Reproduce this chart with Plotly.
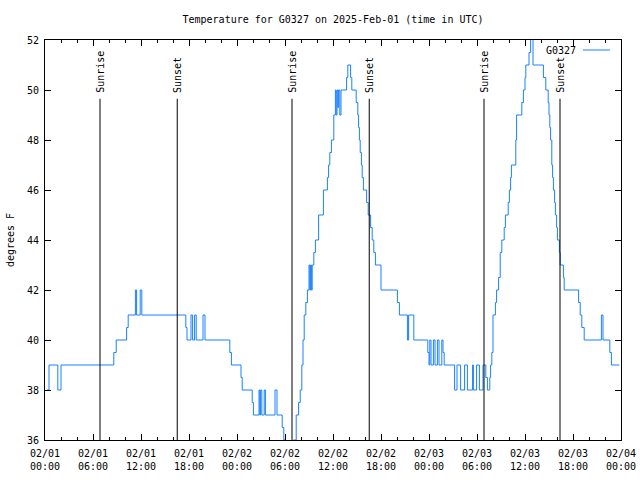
import pandas as pd
import plotly.graph_objects as go

# ---- data (hours since 2025-02-01 00:00 UTC, temperature in F) ----
hours = [0.25, 0.5, 1.6, 2.0, 8.6, 8.9, 10.2, 10.4, 11.3, 11.45, 11.9, 12.1,
         17.6, 17.75, 18.25, 18.45, 18.7, 18.9, 19.75, 20.0, 23.1, 23.3,
         24.5, 24.65, 25.9, 26.05, 26.75, 26.85, 26.95, 27.1, 27.4, 27.55,
         28.75, 29.0, 29.65, 29.85, 30.0, 31.05, 31.4, 31.7, 31.9, 32.1, 32.25,
         32.4, 32.6, 32.8, 33.0, 33.1, 33.2, 33.3, 33.4, 33.6, 33.8, 34.2, 34.8,
         35.3, 35.45, 35.6, 35.8, 36.1, 36.3, 36.4, 36.5, 36.6, 36.7, 36.85,
         37.0, 37.7, 37.85, 38.2, 38.35, 38.9, 39.1, 39.2, 39.3, 39.4, 39.55,
         39.65, 39.8, 40.2, 40.4, 40.7, 40.9, 41.1, 41.3, 42.0, 44.05, 44.3,
         45.3, 45.45, 46.1, 47.85, 48.0, 48.1, 48.25, 48.55, 48.75, 49.05,
         49.25, 49.6, 49.75, 49.9, 51.2, 51.5, 51.95, 52.45, 52.8, 53.45,
         53.55, 53.95, 54.3, 54.45, 54.75, 55.1, 55.3, 55.6, 55.7, 55.85, 56.0,
         56.3, 56.45, 56.7, 56.9, 57.1, 57.4, 57.55, 57.9, 58.05, 58.2, 58.3,
         58.85, 58.95, 59.6, 59.8, 60.0, 60.1, 60.5, 60.7, 61.0, 62.3, 62.6,
         62.9, 63.0, 63.1, 63.2, 63.35, 63.45, 63.55, 63.7, 63.8, 63.95, 64.05,
         64.3, 64.4, 64.8, 64.9, 66.7, 66.9, 67.1, 67.4, 69.55, 69.75, 70.6,
         70.8, 71.8]
temps = [38, 39, 38, 39, 39.5, 40, 40.5, 41, 42, 41, 42, 41,
         40.5, 40, 41, 40, 41, 40, 41, 40, 39.5, 39,
         38.5, 38, 37.5, 37, 38, 37, 38, 37, 38, 37,
         38, 37, 36.5, 36, 35, 36, 37, 37.5, 38, 39, 40,
         41, 41.5, 42, 43, 42, 43, 42, 43, 43.5, 44, 45, 46,
         46.5, 47, 47.5, 48, 49, 50, 49, 50, 49.3, 50, 49,
         50, 50.5, 51, 50.5, 50, 49.5, 49, 48.5, 48, 47.5, 47,
         46.5, 46, 45.5, 45, 44.5, 44, 43.5, 43, 42, 41.5, 41,
         40, 41, 40, 39.5, 39, 40, 39, 40, 39, 40,
         39, 40, 39.5, 39, 38, 39, 38, 39, 38, 39,
         38, 39, 38, 38, 39, 38.5, 38, 38.5, 39, 39.5, 41,
         41.5, 42, 42.5, 43.5, 44, 44.5, 45, 45.5, 46, 46.5, 47,
         48, 49, 49.5, 50, 50.5, 51, 51.5, 53, 51, 50.5, 50,
         49.5, 49, 48.5, 48, 47, 46.5, 46, 45.5, 45, 44.5, 44,
         43.5, 43, 42.5, 42, 41.5, 41, 40.5, 40, 41, 40, 39.5,
         39, 39]

sunrise_hours = [6.875, 30.875, 54.875]
sunset_hours = [16.53, 40.53, 64.375]
sun_line_top = 49.65

series_name = "G0327"
title_text = "Temperature for G0327 on 2025-Feb-01 (time in UTC)"
y_label = "degrees F"
y_range = [36, 52]

base = pd.Timestamp("2025-02-01 00:00")
times = base + pd.to_timedelta(hours, unit="h")
x_end = base + pd.Timedelta(hours=72)

FONT = "DejaVu Sans Mono"
BLUE = "#1a80ff"
fig = go.Figure()
fig.add_trace(go.Scatter(x=times, y=temps, mode="lines", line_shape="hv",
                         line=dict(color=BLUE, width=1), name=series_name,
                         showlegend=False))

for lab, hs in (("Sunrise", sunrise_hours), ("Sunset", sunset_hours)):
    for h in hs:
        t = base + pd.Timedelta(hours=h)
        fig.add_shape(type="line", x0=t, x1=t, y0=y_range[0], y1=sun_line_top,
                      xref="x", yref="y", line=dict(color="black", width=1))
        fig.add_annotation(x=t, y=sun_line_top, text=lab, textangle=-90,
                           showarrow=False, xanchor="center", yanchor="bottom",
                           yshift=4, xshift=1,
                           font=dict(family=FONT, size=10, color="black"))

# legend (gnuplot style: text then sample line)
fig.add_annotation(x=0.925, y=0.974, xref="paper", yref="paper", text=series_name,
                   showarrow=False, xanchor="right", yanchor="middle",
                   font=dict(family=FONT, size=10, color="black"))
fig.add_shape(type="line", x0=0.934, x1=0.981, y0=0.975, y1=0.975,
              xref="paper", yref="paper", line=dict(color=BLUE, width=1))

fig.update_layout(
    width=640, height=480,
    margin=dict(l=45, r=19, t=40, b=40, autoexpand=False),
    paper_bgcolor="white", plot_bgcolor="white",
    font=dict(family=FONT, size=10, color="black"),
    title=dict(text=title_text, xref="paper", x=0.5, xanchor="center",
               y=1 - 19 / 480, yanchor="middle", font=dict(family=FONT, size=10)),
)
fig.update_xaxes(type="date", range=[base, x_end], tick0=base, dtick=6 * 3600000,
                 tickformat="%m/%d<br>%H:%M", ticks="inside", ticklen=6,
                 tickcolor="black", showline=True, linecolor="black", linewidth=1,
                 mirror="allticks", showgrid=False, zeroline=False,
                 ticklabelstandoff=4,
                 minor=dict(dtick=2 * 3600000, ticks="inside", ticklen=3,
                            tickcolor="black", showgrid=False),
                 tickfont=dict(family=FONT, size=10), automargin=False)
fig.update_yaxes(range=y_range, dtick=2, ticks="inside", ticklen=6, tickcolor="black",
                 showline=True, linecolor="black", linewidth=1, mirror="allticks",
                 showgrid=False, zeroline=False, automargin=False,
                 ticklabelstandoff=3,
                 title=dict(text=y_label, standoff=10, font=dict(family=FONT, size=10)),
                 tickfont=dict(family=FONT, size=10))

fig.write_html("out.html", config={"displayModeBar": False},
               post_script="document.body.style.margin='0';document.body.style.padding='0';document.body.style.overflow='hidden';")
